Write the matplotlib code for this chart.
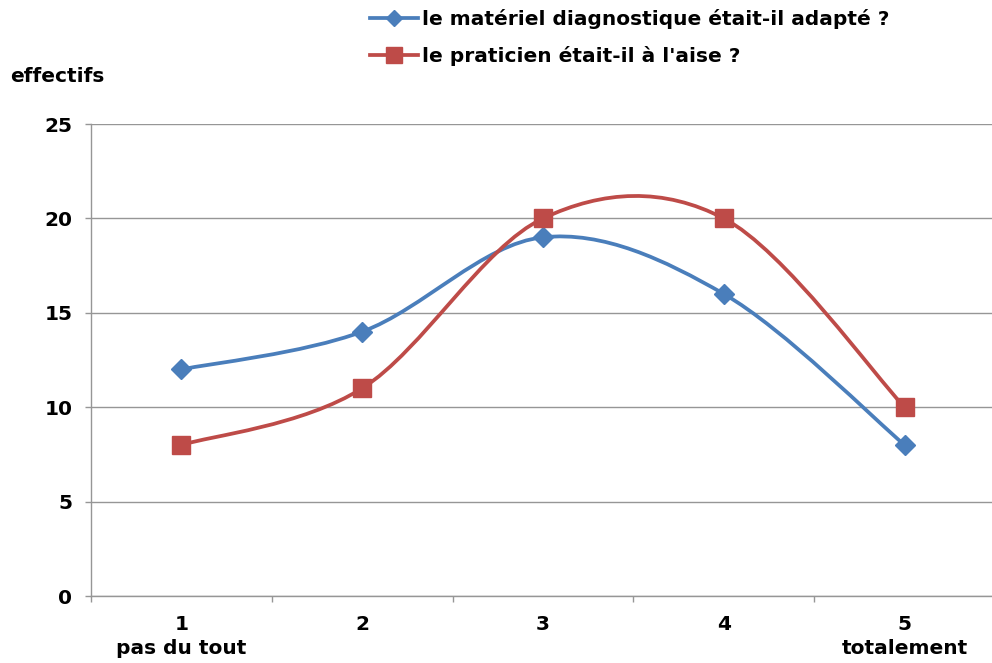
import matplotlib
matplotlib.use("Agg")
import matplotlib.pyplot as plt
import numpy as np
from matplotlib.path import Path
from matplotlib.patches import PathPatch
from matplotlib.lines import Line2D

plt.rcParams['font.family'] = ['DejaVu Sans']
plt.rcParams['font.weight'] = 'bold'

categories = [1, 2, 3, 4, 5]
tick_labels = ["1\npas du tout", "2", "3", "4", "5\ntotalement"]
materiel = [12, 14, 19, 16, 8]
praticien = [8, 11, 20, 20, 10]
series_names = ["le matériel diagnostique était-il adapté ?",
                "le praticien était-il à l'aise ?"]
yticks = [0, 5, 10, 15, 20, 25]

BLUE = "#4A7EBB"
RED = "#BE4B48"
GRID = "#969696"
FS = 14.5


def smooth_path(xs, ys):
    pts = np.column_stack([xs, ys]).astype(float)
    n = len(pts)
    verts = [pts[0]]
    codes = [Path.MOVETO]
    for i in range(n - 1):
        p0 = pts[i - 1] if i > 0 else pts[i]
        p1 = pts[i]
        p2 = pts[i + 1]
        p3 = pts[i + 2] if i + 2 < n else pts[i + 1]
        c1 = p1 + (p2 - p0) / 6.0
        c2 = p2 - (p3 - p1) / 6.0
        verts += [c1, c2, p2]
        codes += [Path.CURVE4] * 3
    return Path(verts, codes)


fig = plt.figure(figsize=(9.92, 6.63), dpi=100)
ax = fig.add_axes([91 / 992, 67 / 663, (995 - 91) / 992, (596 - 124) / 663])

ax.set_xlim(0.5, 5.5)
ax.set_ylim(0, 25)

for ys, col, mk, ms in [(materiel, BLUE, 'D', 10.5), (praticien, RED, 's', 13)]:
    patch = PathPatch(smooth_path(categories, ys), facecolor='none',
                      edgecolor=col, lw=2.7, zorder=3, clip_on=False)
    ax.add_patch(patch)
    ax.plot(categories, ys, linestyle='none', marker=mk, markersize=ms,
            color=col, zorder=4, clip_on=False)

ax.set_yticks(yticks)
ax.set_yticklabels([str(v) for v in yticks])
ax.yaxis.grid(True, color=GRID, lw=1.0)
ax.set_axisbelow(True)

ax.set_xticks(categories)
ax.set_xticklabels(tick_labels, linespacing=1.3)
ax.set_xticks([0.5, 1.5, 2.5, 3.5, 4.5, 5.5], minor=True)
ax.tick_params(axis='x', which='major', length=0, pad=14, labelsize=FS)
ax.tick_params(axis='x', which='minor', length=4.5, color=GRID, width=1.0)
ax.tick_params(axis='y', length=4.5, color=GRID, width=1.0, pad=9, labelsize=FS)

for s in ['top', 'right']:
    ax.spines[s].set_visible(False)
for s in ['left', 'bottom']:
    ax.spines[s].set_color(GRID)
    ax.spines[s].set_linewidth(1.0)

fig.text(10 / 992, 1 - 77 / 663, "effectifs", fontsize=FS, fontweight='bold',
         ha='left', va='center')

handles = [Line2D([], [], color=BLUE, lw=2.7, marker='D', markersize=8.5),
           Line2D([], [], color=RED, lw=2.7, marker='s', markersize=11)]
fig.legend(handles, series_names, loc='upper left',
           bbox_to_anchor=(358 / 992, 1 + 3 / 663), frameon=False,
           fontsize=FS, handlelength=2.4, handletextpad=0.2,
           labelspacing=0.85, numpoints=1, borderaxespad=0.2)

fig.savefig("out.png", dpi=100)
